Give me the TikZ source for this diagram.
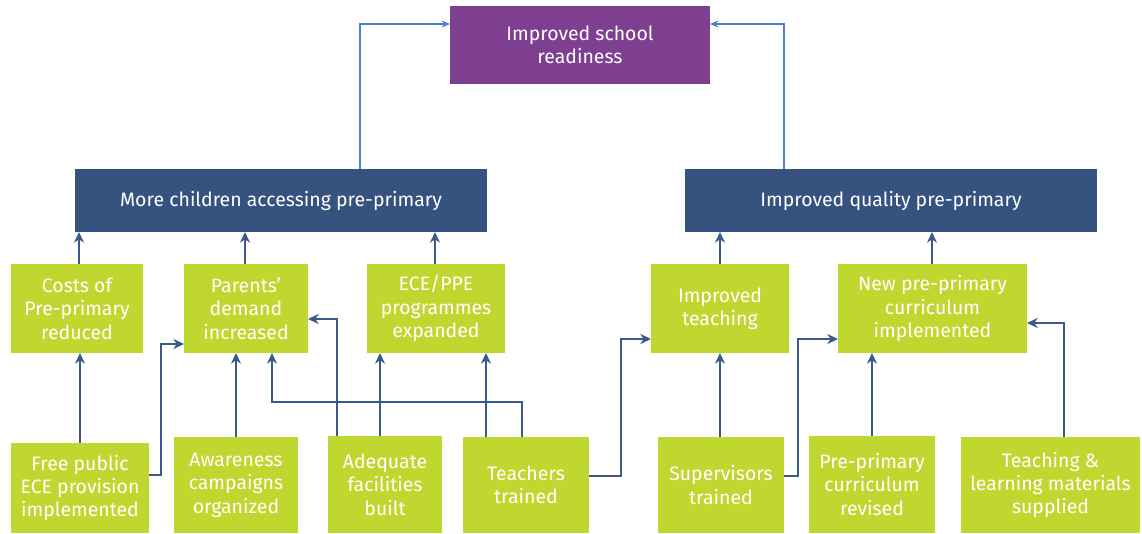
\documentclass[tikz,border=0pt]{standalone}
\usepackage{fontspec}
\setmainfont{Fira Sans}
\usetikzlibrary{arrows.meta,calc}
\definecolor{gr}{HTML}{C0D730}
\definecolor{bl}{HTML}{36537F}
\definecolor{pu}{HTML}{7F3F91}
\definecolor{ln}{HTML}{3A5A8C}
\definecolor{lt}{HTML}{4F7FC8}
\newcommand{\bx}[7]{\node[#1, minimum width={(#4-#3)*0.75pt}, minimum height={(#6-#5)*0.75pt}] (#2) at ({(#3+#4)/2},{(#5+#6)/2}) {#7};}
\begin{document}
\begin{tikzpicture}[x=0.75pt,y=-0.75pt,
  base/.style={inner sep=0pt, outer sep=0pt, align=center, text=white, font=\fontsize{14.6}{17.6}\selectfont},
  gbox/.style={base, fill=gr},
  bbox/.style={base, fill=bl},
  pbox/.style={base, fill=pu},
  conn/.style={draw=ln, line width=1.5pt, -{Stealth[length=8pt,width=7.5pt,inset=2.5pt]}},
  topconn/.style={draw=lt, line width=0.8pt, -{Stealth[length=6pt,width=5pt,inset=1.5pt]}}]
\useasboundingbox (0,0) rectangle (1142,533);
% top
\bx{pbox}{purple}{450}{710}{6}{84}{Improved school\\readiness}
\bx{bbox}{blueL}{75}{487}{169}{232}{More children accessing pre-primary}
\bx{bbox}{blueR}{685}{1097}{169}{232}{Improved quality pre-primary}
% row 2
\bx{gbox}{costs}{11}{143}{264}{353}{Costs of\\Pre-primary\\reduced}
\bx{gbox}{parents}{184}{308}{264}{353}{Parents’\\demand\\increased}
\bx{gbox}{ece}{367}{505}{264}{353}{ECE/PPE\\programmes\\expanded}
\bx{gbox}{teach}{651}{789}{264}{353}{Improved\\teaching}
\bx{gbox}{newc}{838}{1027}{264}{353}{New pre-primary\\curriculum\\implemented}
% row 3
\bx{gbox}{free}{11}{149}{443}{533}{Free public\\ECE provision\\implemented}
\bx{gbox}{aware}{174}{298}{437}{533}{Awareness\\campaigns\\organized}
\bx{gbox}{adeq}{328}{442}{436}{533}{Adequate\\facilities\\built}
\bx{gbox}{teachers}{463}{589}{437}{533}{Teachers\\trained}
\bx{gbox}{superv}{658}{784}{437}{533}{Supervisors\\trained}
\bx{gbox}{prep}{809}{935}{436}{533}{Pre-primary\\curriculum\\revised}
\bx{gbox}{mat}{961}{1140}{437}{533}{Teaching \&\\learning materials\\supplied}
% top connectors
\draw[topconn] (360,0 |- blueL.north) -- (360,24) -- (purple.west |- 0,24);
\draw[topconn] (784,0 |- blueR.north) -- (784,24) -- (purple.east |- 0,24);
% row 2 to blue
\draw[conn] (79,0 |- costs.north) -- (79,0 |- blueL.south);
\draw[conn] (245,0 |- parents.north) -- (245,0 |- blueL.south);
\draw[conn] (435,0 |- ece.north) -- (435,0 |- blueL.south);
\draw[conn] (teach.north) -- (teach.north |- blueR.south);
\draw[conn] (932,0 |- newc.north) -- (932,0 |- blueR.south);
% row 3 to row 2
\draw[conn] (free.north) -- (free.north |- costs.south);
\draw[conn] (free.east |- 0,475) -- (161,475) -- (161,344) -- (parents.west |- 0,344);
\draw[conn] (aware.north) -- (aware.north |- parents.south);
\draw[conn] (522,0 |- teachers.north) -- (522,402) -- (272,402) -- (272,0 |- parents.south);
\draw[conn] (337,0 |- adeq.north) -- (337,319) -- (parents.east |- 0,319);
\draw[conn] (380,0 |- adeq.north) -- (380,0 |- ece.south);
\draw[conn] (486,0 |- teachers.north) -- (486,0 |- ece.south);
\draw[conn] (teachers.east |- 0,476) -- (621,476) -- (621,339) -- (teach.west |- 0,339);
\draw[conn] (720,0 |- superv.north) -- (720,0 |- teach.south);
\draw[conn] (superv.east |- 0,476) -- (798,476) -- (798,339) -- (newc.west |- 0,339);
\draw[conn] (prep.north) -- (prep.north |- newc.south);
\draw[conn] (1064,0 |- mat.north) -- (1064,323) -- (newc.east |- 0,323);
\end{tikzpicture}
\end{document}
